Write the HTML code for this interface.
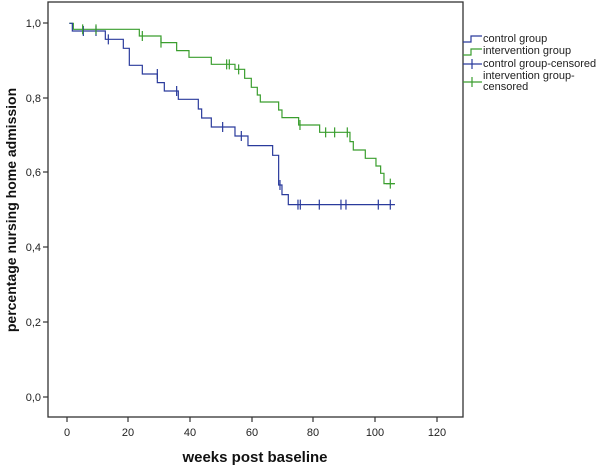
<!DOCTYPE html>
<html><head><meta charset="utf-8"><style>
body{margin:0;background:#fff}
svg{display:block;font-family:"Liberation Sans",Arial,sans-serif}
</style></head><body>
<svg width="600" height="466" viewBox="0 0 600 466" xmlns="http://www.w3.org/2000/svg">
<rect x="0" y="0" width="600" height="466" fill="#fff"/>
<!-- frame -->
<rect x="48" y="2" width="415" height="415" fill="none" stroke="#333" stroke-width="1.3"/>
<!-- y ticks -->
<g stroke="#333" stroke-width="1.2">
<line x1="43" y1="23" x2="48" y2="23"/><line x1="43" y1="98" x2="48" y2="98"/>
<line x1="43" y1="172" x2="48" y2="172"/><line x1="43" y1="247" x2="48" y2="247"/>
<line x1="43" y1="322" x2="48" y2="322"/><line x1="43" y1="397" x2="48" y2="397"/>
<line x1="67" y1="417" x2="67" y2="422"/><line x1="128" y1="417" x2="128" y2="422"/>
<line x1="190" y1="417" x2="190" y2="422"/><line x1="252" y1="417" x2="252" y2="422"/>
<line x1="313" y1="417" x2="313" y2="422"/><line x1="375" y1="417" x2="375" y2="422"/>
<line x1="437" y1="417" x2="437" y2="422"/>
</g>
<g font-size="11" fill="#222" text-anchor="end">
<text x="41" y="27">1,0</text><text x="41" y="102">0,8</text><text x="41" y="176">0,6</text>
<text x="41" y="251">0,4</text><text x="41" y="326">0,2</text><text x="41" y="401">0,0</text>
</g>
<g font-size="11" fill="#222" text-anchor="middle">
<text x="67" y="436">0</text><text x="128" y="436">20</text><text x="190" y="436">40</text>
<text x="252" y="436">60</text><text x="313" y="436">80</text><text x="375" y="436">100</text><text x="437" y="436">120</text>
</g>
<text x="255" y="462" font-size="15" font-weight="bold" text-anchor="middle" fill="#111">weeks post baseline</text>
<text transform="translate(16,210) rotate(-90)" font-size="14" font-weight="bold" text-anchor="middle" fill="#111">percentage nursing home admission</text>
<g transform="translate(40,0) scale(0.3333)" fill="none">
<polyline stroke="#3a9e2e" stroke-width="1.2" vector-effect="non-scaling-stroke" points="88,70 100,70 100,88 298,88 298,108 363,108 363,128 410,128 410,152 447,152 447,172 514,172 514,193 585,193 585,208 614,208 614,235 634,235 634,262 652,262 652,285 661,285 661,306 716,306 716,330 726,330 726,353 776,353 776,375 839,375 839,397 930,397 930,425 940,425 940,450 976,450 976,475 1008,475 1008,498 1022,498 1022,520 1032,520 1032,551 1065,551"/>
<polyline stroke="#2a3b9c" stroke-width="1.2" vector-effect="non-scaling-stroke" points="88,70 97,70 97,93 196,93 196,118 250,118 250,145 268,145 268,196 307,196 307,222 352,222 352,248 373,248 373,273 415,273 415,298 475,298 475,327 485,327 485,354 514,354 514,381 585,381 585,408 624,408 624,437 698,437 698,466 716,466 716,555 726,555 726,584 745,584 745,614 1065,614"/>
<g stroke="#2a3b9c" stroke-width="1.2" vector-effect="non-scaling-stroke">
<path vector-effect="non-scaling-stroke" d="M130,78V108M168,78V108M205,103V133M352,207V237M410,258V288M548,366V396M604,393V423M720,540V570M774,599V629M781,599V629M838,599V629M903,599V629M918,599V629M1015,599V629M1051,599V629"/>
</g>
<g stroke="#3a9e2e">
<path vector-effect="non-scaling-stroke" stroke-width="1.2" d="M128,73V103M168,73V103M307,93V123M363,113V143M560,178V208M568,178V208M596,193V223M780,360V390M857,382V412M884,382V412M922,382V412M1051,536V566M1038,551H1064"/>
</g>
</g>
<!-- legend -->
<g fill="none" stroke-width="1.2">
<path d="M463,42H471V36H482" stroke="#2a3b9c"/>
<path d="M463,55H471V49H482" stroke="#3a9e2e"/>
<path d="M463,64H482M472,59V69" stroke="#2a3b9c"/>
<path d="M463,82H482M472,77V87" stroke="#3a9e2e"/>
</g>
<g font-size="11" fill="#222">
<text x="483" y="42">control group</text>
<text x="483" y="54">intervention group</text>
<text x="483" y="67">control group-censored</text>
<text x="483" y="79">intervention group-</text>
<text x="483" y="90">censored</text>
</g>
</svg>
</body></html>
